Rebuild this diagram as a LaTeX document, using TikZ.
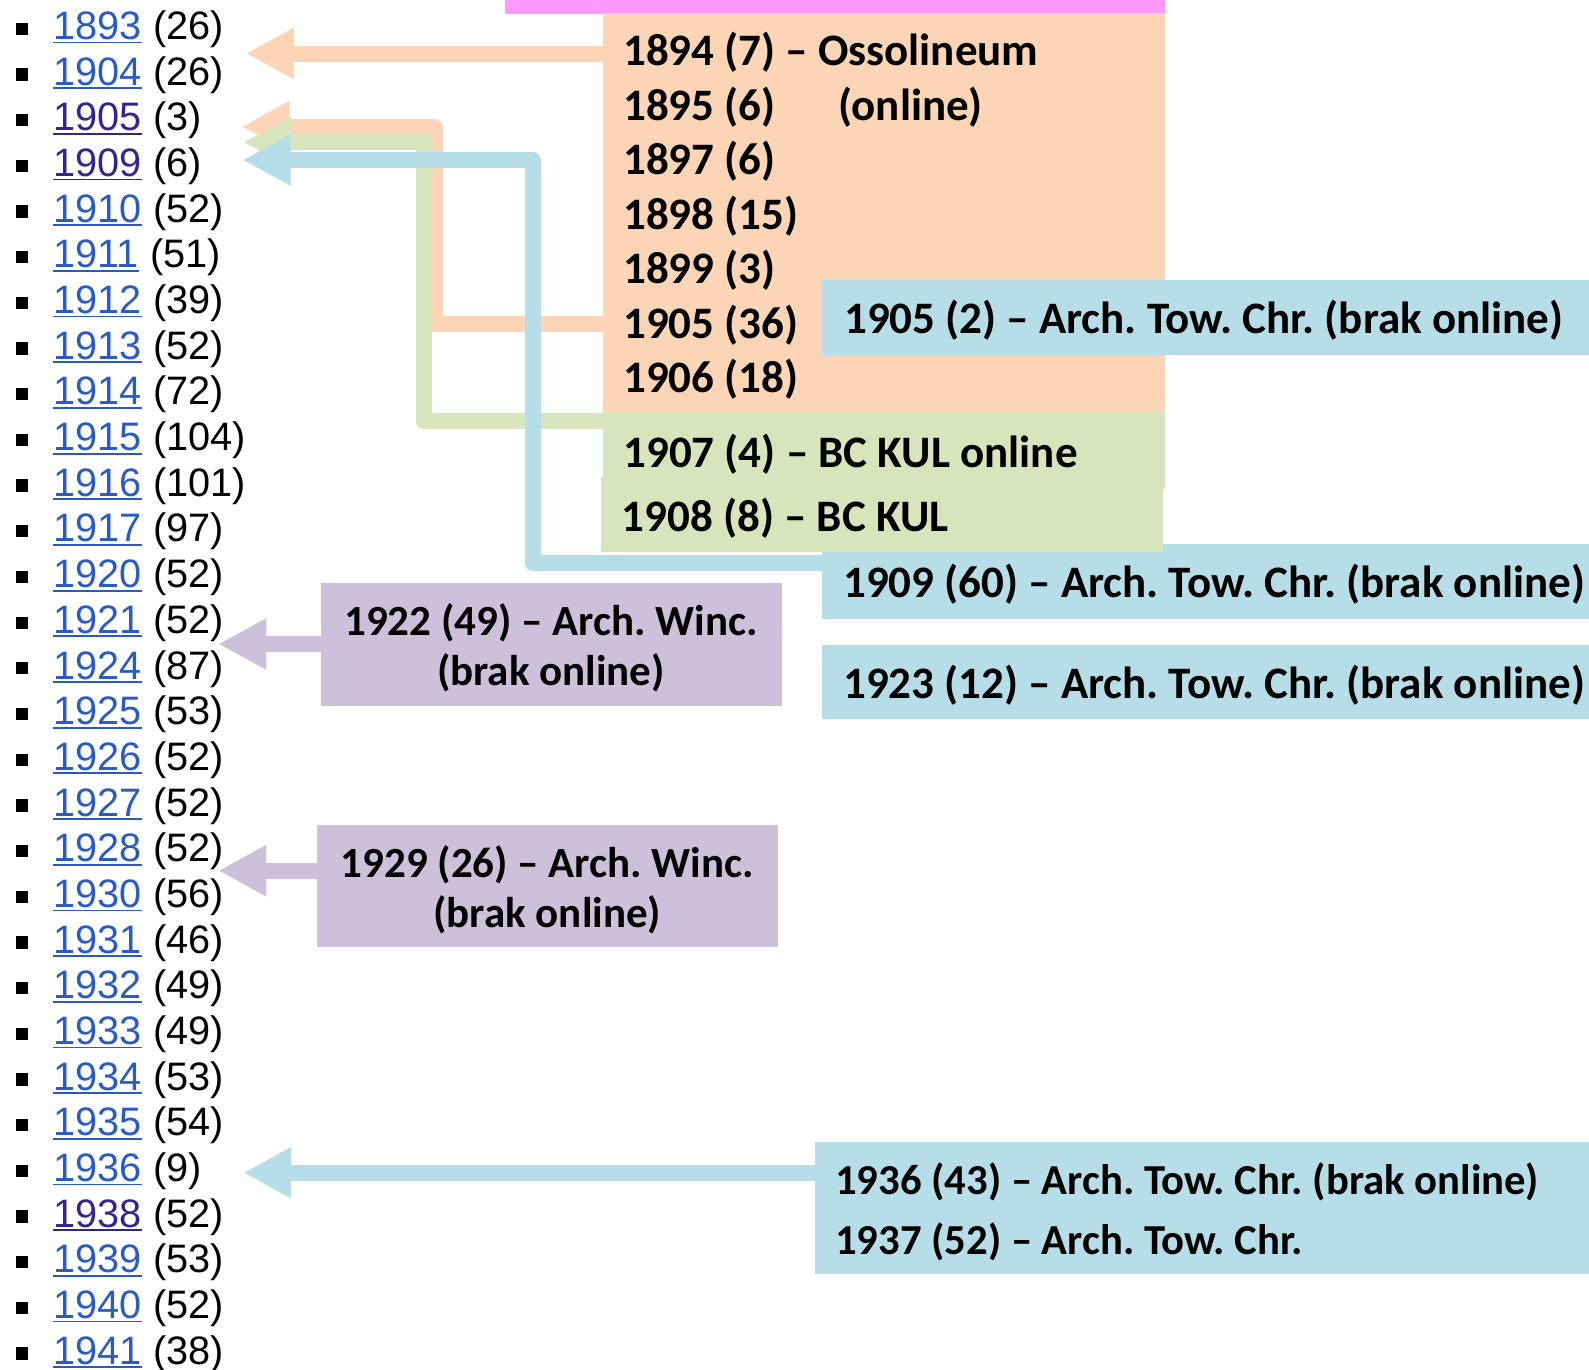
\documentclass[tikz,border=0pt]{standalone}
\usepackage{fontspec}
\setmainfont{Liberation Sans}
\newfontfamily\carlito{Carlito}
\usetikzlibrary{arrows.meta}
\frenchspacing
\definecolor{pinkbar}{HTML}{FF99FF}
\definecolor{orng}{HTML}{FBD5B5}
\definecolor{grn}{HTML}{D8E4BC}
\definecolor{blu}{HTML}{B7DEE8}
\definecolor{purp}{HTML}{CCC0DA}
\definecolor{lk}{HTML}{2A5BC4}
\definecolor{vis}{HTML}{33248F}
\tikzset{
  box/.style={inner sep=0pt, outer sep=0pt, anchor=north west},
  boxtxt/.style={font=\carlito\bfseries\frenchspacing\fontsize{45}{54.5}\selectfont, inner sep=0pt, anchor=base west},
  smalltxt/.style={font=\carlito\bfseries\frenchspacing\fontsize{42.7}{50}\selectfont, inner sep=0pt, anchor=base west},
  ctrtxt/.style={font=\carlito\bfseries\frenchspacing\fontsize{43}{50}\selectfont, inner sep=0pt, anchor=base},
  conn/.style={line width=16pt, line join=round, -{Triangle[length=48pt,width=48pt]}},
  yearlbl/.style={font=\fontsize{39.7}{46}\selectfont, inner sep=0pt, anchor=base west},
}
\begin{document}
\begin{tikzpicture}[x=1pt,y=-1pt]
\useasboundingbox (0,0) rectangle (1589,1369);
% boxes
\node[box, fill=pinkbar, minimum width=660pt, minimum height=13.5pt] (pink) at (505,0) {};
\node[box, fill=orng, minimum width=562.5pt, minimum height=399.3pt] (oss) at (602.7,13) {};
\node[box, fill=blu, minimum width=780pt, minimum height=75pt] (b1905) at (821.6,280) {};
\node[box, fill=blu, minimum width=780pt, minimum height=75pt] (b1909) at (821.6,544) {};
\node[box, fill=grn, minimum width=562pt, minimum height=75pt] (g1908) at (601,476.7) {};
\node[box, fill=grn, minimum width=562.3pt, minimum height=76.7pt] (g1907) at (602.7,412.3) {};
\node[box, fill=blu, minimum width=780pt, minimum height=74.3pt] (b1923) at (821.6,645) {};
\node[box, fill=blu, minimum width=780pt, minimum height=132pt] (b1936) at (815,1142) {};
\node[box, fill=purp, minimum width=461pt, minimum height=122.5pt] (p1922) at (320.5,583) {};
\node[box, fill=purp, minimum width=461.3pt, minimum height=122.3pt] (p1929) at (316.7,825) {};
% texts in boxes
\foreach \t [count=\i from 0] in {{1894 (7) – Ossolineum},{\makebox[215pt][l]{1895 (6)}(online)},{1897 (6)},{1898 (15)},{1899 (3)},{1905 (36)},{1906 (18)}}
  \node[boxtxt] (ot\i) at (623,65.5+54.55*\i) {\t};
\node[boxtxt] (tb1905) at (844,333.5) {1905 (2) – Arch. Tow. Chr. (brak online)};
\node[boxtxt] (tg1907) at (623.3,467) {1907 (4) – BC KUL online};
\node[boxtxt] (tg1908) at (621.7,531) {1908 (8) – BC KUL};
\node[boxtxt] (tb1909) at (843,597.5) {1909 (60) – Arch. Tow. Chr. (brak online)};
\node[boxtxt] (tb1923) at (843,698.5) {1923 (12) – Arch. Tow. Chr. (brak online)};
\node[smalltxt] (tb1936a) at (835,1194) {1936 (43) – Arch. Tow. Chr. (brak online)};
\node[smalltxt] (tb1936b) at (835,1254) {1937 (52) – Arch. Tow. Chr.};
\node[ctrtxt] (tp1922a) at (551,635) {1922 (49) – Arch. Winc.};
\node[ctrtxt] (tp1922b) at (551,685) {(brak online)};
\node[ctrtxt] (tp1929a) at (547.3,877.5) {1929 (26) – Arch. Winc.};
\node[ctrtxt] (tp1929b) at (547.3,927.5) {(brak online)};
% list
\foreach \yr/\ct/\cl [count=\i from 0] in {1893/26/lk,1904/26/lk,1905/3/vis,1909/6/vis,1910/52/lk,1911/51/lk,1912/39/lk,1913/52/lk,1914/72/lk,1915/104/lk,1916/101/lk,1917/97/lk,1920/52/lk,1921/52/lk,1924/87/lk,1925/53/lk,1926/52/lk,1927/52/lk,1928/52/lk,1930/56/lk,1931/46/lk,1932/49/lk,1933/49/lk,1934/53/lk,1935/54/lk,1936/9/lk,1938/52/vis,1939/53/lk,1940/52/lk,1941/38/lk}{
  \pgfmathsetmacro\yb{25.3+45.68*\i+14.2}
  \node[fill=black, inner sep=0pt, minimum size=12.3pt] (bul\yr) at (22.2,\yb-10.7) {};
  \node[yearlbl, text=\cl] (yr\yr) at (53.3,\yb) {\yr};
  \draw[\cl, line width=1.8pt] ([yshift=-3pt]yr\yr.base west) -- ([yshift=-3pt]yr\yr.base east);
  \node[yearlbl] (ct\yr) at ([xshift=11pt]yr\yr.base east) {(\ct)};
}
% arrow tips and bends
\coordinate (t1893) at (246,53.5);
\coordinate (t1905o) at (241.7,126.7);
\coordinate (k1905o) at (434.7,126.7);
\coordinate (t1905g) at (243.3,142.3);
\coordinate (k1905g) at (424,142.3);
\coordinate (t1909) at (242.7,160);
\coordinate (k1909) at (532.7,160);
\coordinate (t1921) at (218.3,644);
\coordinate (t1928) at (218.3,870.7);
\coordinate (t1936) at (243.3,1172.7);
% connectors
\draw[conn, orng] ([yshift=-40.5pt]oss.north west) -- (t1893);
\draw[conn, orng] ([yshift=-311pt]oss.north west) -| (k1905o) -- (t1905o);
\draw[conn, grn] ([yshift=-9pt]g1907.north west) -| (k1905g) -- (t1905g);
\draw[conn, blu] ([yshift=-19pt]b1909.north west) -| (k1909) -- (t1909);
\draw[conn, blu] ([yshift=-30.7pt]b1936.north west) -- (t1936);
\draw[conn, purp] ([yshift=-61pt]p1922.north west) -- (t1921);
\draw[conn, purp] ([yshift=-45.7pt]p1929.north west) -- (t1928);
\end{tikzpicture}
\end{document}
